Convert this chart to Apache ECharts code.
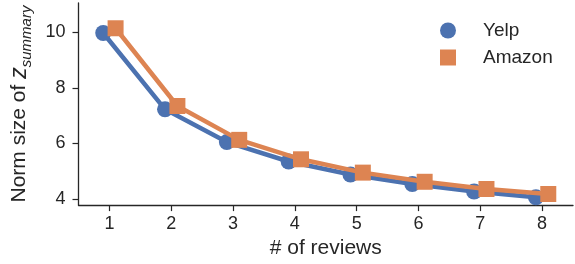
<!DOCTYPE html>
<html>
<head>
<meta charset="utf-8">
<script src="https://cdn.jsdelivr.net/npm/echarts@6/dist/echarts.min.js"></script>
<style>
  html, body { margin: 0; padding: 0; background: #fff; }
  #chart { width: 575px; height: 264px; }
</style>
</head>
<body>
<div id="chart"></div>
<script>
    // reviews count on the x axis
    var reviews = [1, 2, 3, 4, 5, 6, 7, 8];
    var yelp = [9.98, 7.23, 6.05, 5.35, 4.88, 4.54, 4.27, 4.06];
    var amazon = [10.15, 7.35, 6.13, 5.43, 4.95, 4.62, 4.36, 4.18];
    var yTicks = [4, 6, 8, 10];

    var dodge = 0.1; // seaborn-style point dodge
    var font = 'Liberation Sans, Arial, sans-serif';
    var ink = '#262626';

    function pts(vals, off) {
        return reviews.map(function(r, i) {
            return [r + off, vals[i]];
        });
    }

    var chart = echarts.init(document.getElementById('chart'));
    chart.setOption({
        animation: false,
        textStyle: { fontFamily: font },
        grid: { left: 76, right: 2, top: 3, bottom: 58 },
        legend: {
            orient: 'vertical',
            left: 435,
            top: 16,
            itemWidth: 16,
            itemHeight: 16,
            itemGap: 8,
            textStyle: { fontSize: 19, color: ink, padding: [0, 0, 0, 22] },
            data: [
                { name: 'Yelp', icon: 'circle' },
                { name: 'Amazon', icon: 'rect' }
            ]
        },
        xAxis: {
            type: 'value',
            min: 0.5,
            max: 8.5,
            name: '# of reviews',
            nameLocation: 'middle',
            nameGap: 32,
            nameTextStyle: { fontSize: 21, color: ink },
            axisLine: { lineStyle: { color: ink, width: 1.3 } },
            axisTick: { show: true, length: 6, customValues: reviews, lineStyle: { color: ink, width: 1.2 } },
            axisLabel: { fontSize: 18, color: ink, margin: 10, customValues: reviews },
            splitLine: { show: false }
        },
        yAxis: {
            type: 'value',
            min: 3.78,
            max: 11.06,
            name: '{a|Norm size of }{z|z}{s|summary}',
            nameLocation: 'middle',
            nameGap: 44,
            nameTextStyle: {
                color: ink,
                rich: {
                    a: { fontSize: 21, color: ink, lineHeight: 30, verticalAlign: 'middle' },
                    z: { fontSize: 23, color: ink, fontStyle: 'italic', lineHeight: 30, verticalAlign: 'middle' },
                    s: { fontSize: 15, color: ink, fontStyle: 'italic', lineHeight: 30, verticalAlign: 'bottom' }
                }
            },
            axisLine: { show: true, lineStyle: { color: ink, width: 1.3 } },
            axisTick: { show: true, length: 6, customValues: yTicks, lineStyle: { color: ink, width: 1.2 } },
            axisLabel: { fontSize: 18, color: ink, margin: 13, customValues: yTicks },
            splitLine: { show: false }
        },
        series: [{
            name: 'Yelp',
            type: 'line',
            data: pts(yelp, -dodge),
            symbol: 'circle',
            symbolSize: 16,
            itemStyle: { color: '#4C72B0' },
            lineStyle: { width: 4.5, color: '#4C72B0' },
            z: 2
        }, {
            name: 'Amazon',
            type: 'line',
            data: pts(amazon, dodge),
            symbol: 'rect',
            symbolSize: 16,
            itemStyle: { color: '#DD8452' },
            lineStyle: { width: 4.5, color: '#DD8452' },
            z: 3
        }]
    });
</script>
</body>
</html>
